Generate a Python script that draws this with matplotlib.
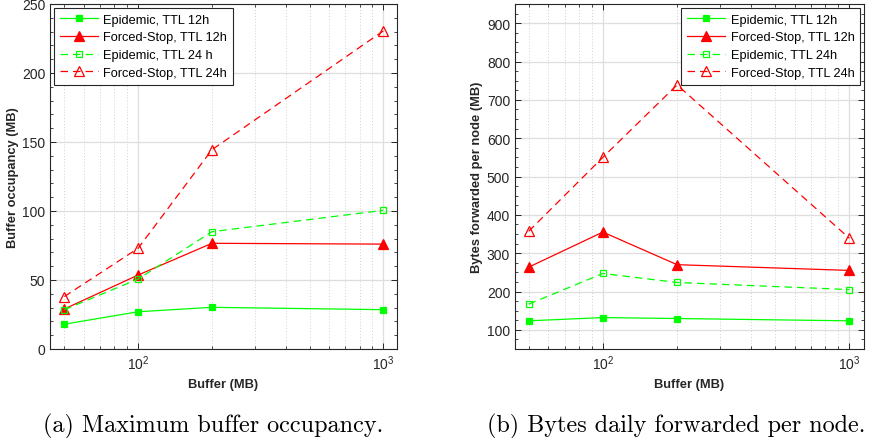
import matplotlib
matplotlib.use("Agg")
import matplotlib.pyplot as plt
from matplotlib.ticker import MultipleLocator, LogLocator, NullFormatter

buffer_mb = [50, 100, 200, 1000]

occ_epi_12 = [18, 27, 30.2, 28.5]
occ_fs_12 = [29, 53.6, 76.6, 76]
occ_epi_24 = [28.5, 50.7, 85, 100.5]
occ_fs_24 = [38, 73, 144.4, 230.5]

fwd_epi_12 = [123.5, 132, 129.5, 123.5]
fwd_fs_12 = [263.5, 355, 270, 255]
fwd_epi_24 = [167, 247, 223.5, 205]
fwd_fs_24 = [357, 550, 739, 339]

labels_a = ["Epidemic, TTL 12h", "Forced-Stop, TTL 12h", "Epidemic, TTL 24 h", "Forced-Stop, TTL 24h"]
labels_b = ["Epidemic, TTL 12h", "Forced-Stop, TTL 12h", "Epidemic, TTL 24h", "Forced-Stop, TTL 24h"]

GREEN = "#00ff00"
RED = "#ff0000"
SANS = ["Liberation Sans", "DejaVu Sans"]
TICKC = "#262626"

fig = plt.figure(figsize=(8.72, 4.39), dpi=100)
ax1 = fig.add_axes([50/872, 1-350/439, 347/872, 345/439])
ax2 = fig.add_axes([515/872, 1-350/439, 349/872, 345/439])


def draw(ax, series, labels):
    styles = [
        dict(color=GREEN, ls="-", marker="s", mfc=GREEN, ms=5),
        dict(color=RED, ls="-", marker="^", mfc=RED, ms=6.5),
        dict(color=GREEN, ls=(0, (6, 4)), marker="s", mfc="none", ms=5),
        dict(color=RED, ls=(0, (6, 4)), marker="^", mfc="none", ms=7),
    ]
    for ys, lab, st in zip(series, labels, styles):
        ax.plot(buffer_mb, ys, label=lab, lw=0.9, mew=0.9, mec=st["color"], **st)
    ax.set_xscale("log")
    ax.xaxis.set_major_locator(LogLocator(base=10, numticks=10))
    ax.xaxis.set_minor_locator(LogLocator(base=10, subs=range(2, 10), numticks=10))
    ax.xaxis.set_minor_formatter(NullFormatter())
    ax.grid(True, which="major", color="#dedede", lw=0.9)
    ax.grid(True, which="minor", axis="x", color="#d0d0d0", lw=0.7, ls=(0, (1, 2)))
    ax.set_axisbelow(True)
    ax.tick_params(which="both", direction="in", top=True, right=True,
                   labelsize=10, labelcolor=TICKC, color="#262626")
    ax.tick_params(which="major", length=4, width=0.7)
    ax.tick_params(which="minor", length=2.5, width=0.6)
    for s in ax.spines.values():
        s.set_color("#262626")
        s.set_linewidth(0.8)
    for lbl in ax.get_xticklabels() + ax.get_yticklabels():
        lbl.set_family(SANS)
    ax.set_xlabel("Buffer (MB)", fontsize=9.3, fontweight="bold", family=SANS, color=TICKC, labelpad=4)


def legend(ax, loc):
    leg = ax.legend(loc=loc, prop={"family": SANS, "size": 9.2}, fancybox=False,
                    edgecolor="#262626", framealpha=1, handlelength=3, borderaxespad=0.3,
                    labelspacing=0.45, borderpad=0.45, handletextpad=0.4)
    leg.get_frame().set_linewidth(0.8)


draw(ax1, [occ_epi_12, occ_fs_12, occ_epi_24, occ_fs_24], labels_a)
ax1.set_xlim(43.7, 1137)
ax1.set_ylim(0, 250)
ax1.yaxis.set_major_locator(MultipleLocator(50))
ax1.yaxis.set_minor_locator(MultipleLocator(10))
ax1.set_ylabel("Buffer occupancy (MB)", fontsize=9.3, fontweight="bold", family=SANS, color=TICKC, labelpad=2)
legend(ax1, "upper left")

draw(ax2, [fwd_epi_12, fwd_fs_12, fwd_epi_24, fwd_fs_24], labels_b)
ax2.set_xlim(44, 1147)
ax2.set_ylim(50, 950)
ax2.yaxis.set_major_locator(MultipleLocator(100))
ax2.yaxis.set_minor_locator(MultipleLocator(25))
ax2.set_ylabel("Bytes forwarded per node (MB)", fontsize=9.3, fontweight="bold", family=SANS, color=TICKC, labelpad=3)
legend(ax2, "upper right")

fig.text(213.5/872, 1-432/439, "(a) Maximum buffer occupancy.", ha="center", va="baseline",
         family=["cmr10", "DejaVu Serif"], fontsize=17.4)
fig.text(676.5/872, 1-432/439, "(b) Bytes daily forwarded per node.", ha="center", va="baseline",
         family=["cmr10", "DejaVu Serif"], fontsize=17.4)

fig.savefig("out.png", dpi=100)
